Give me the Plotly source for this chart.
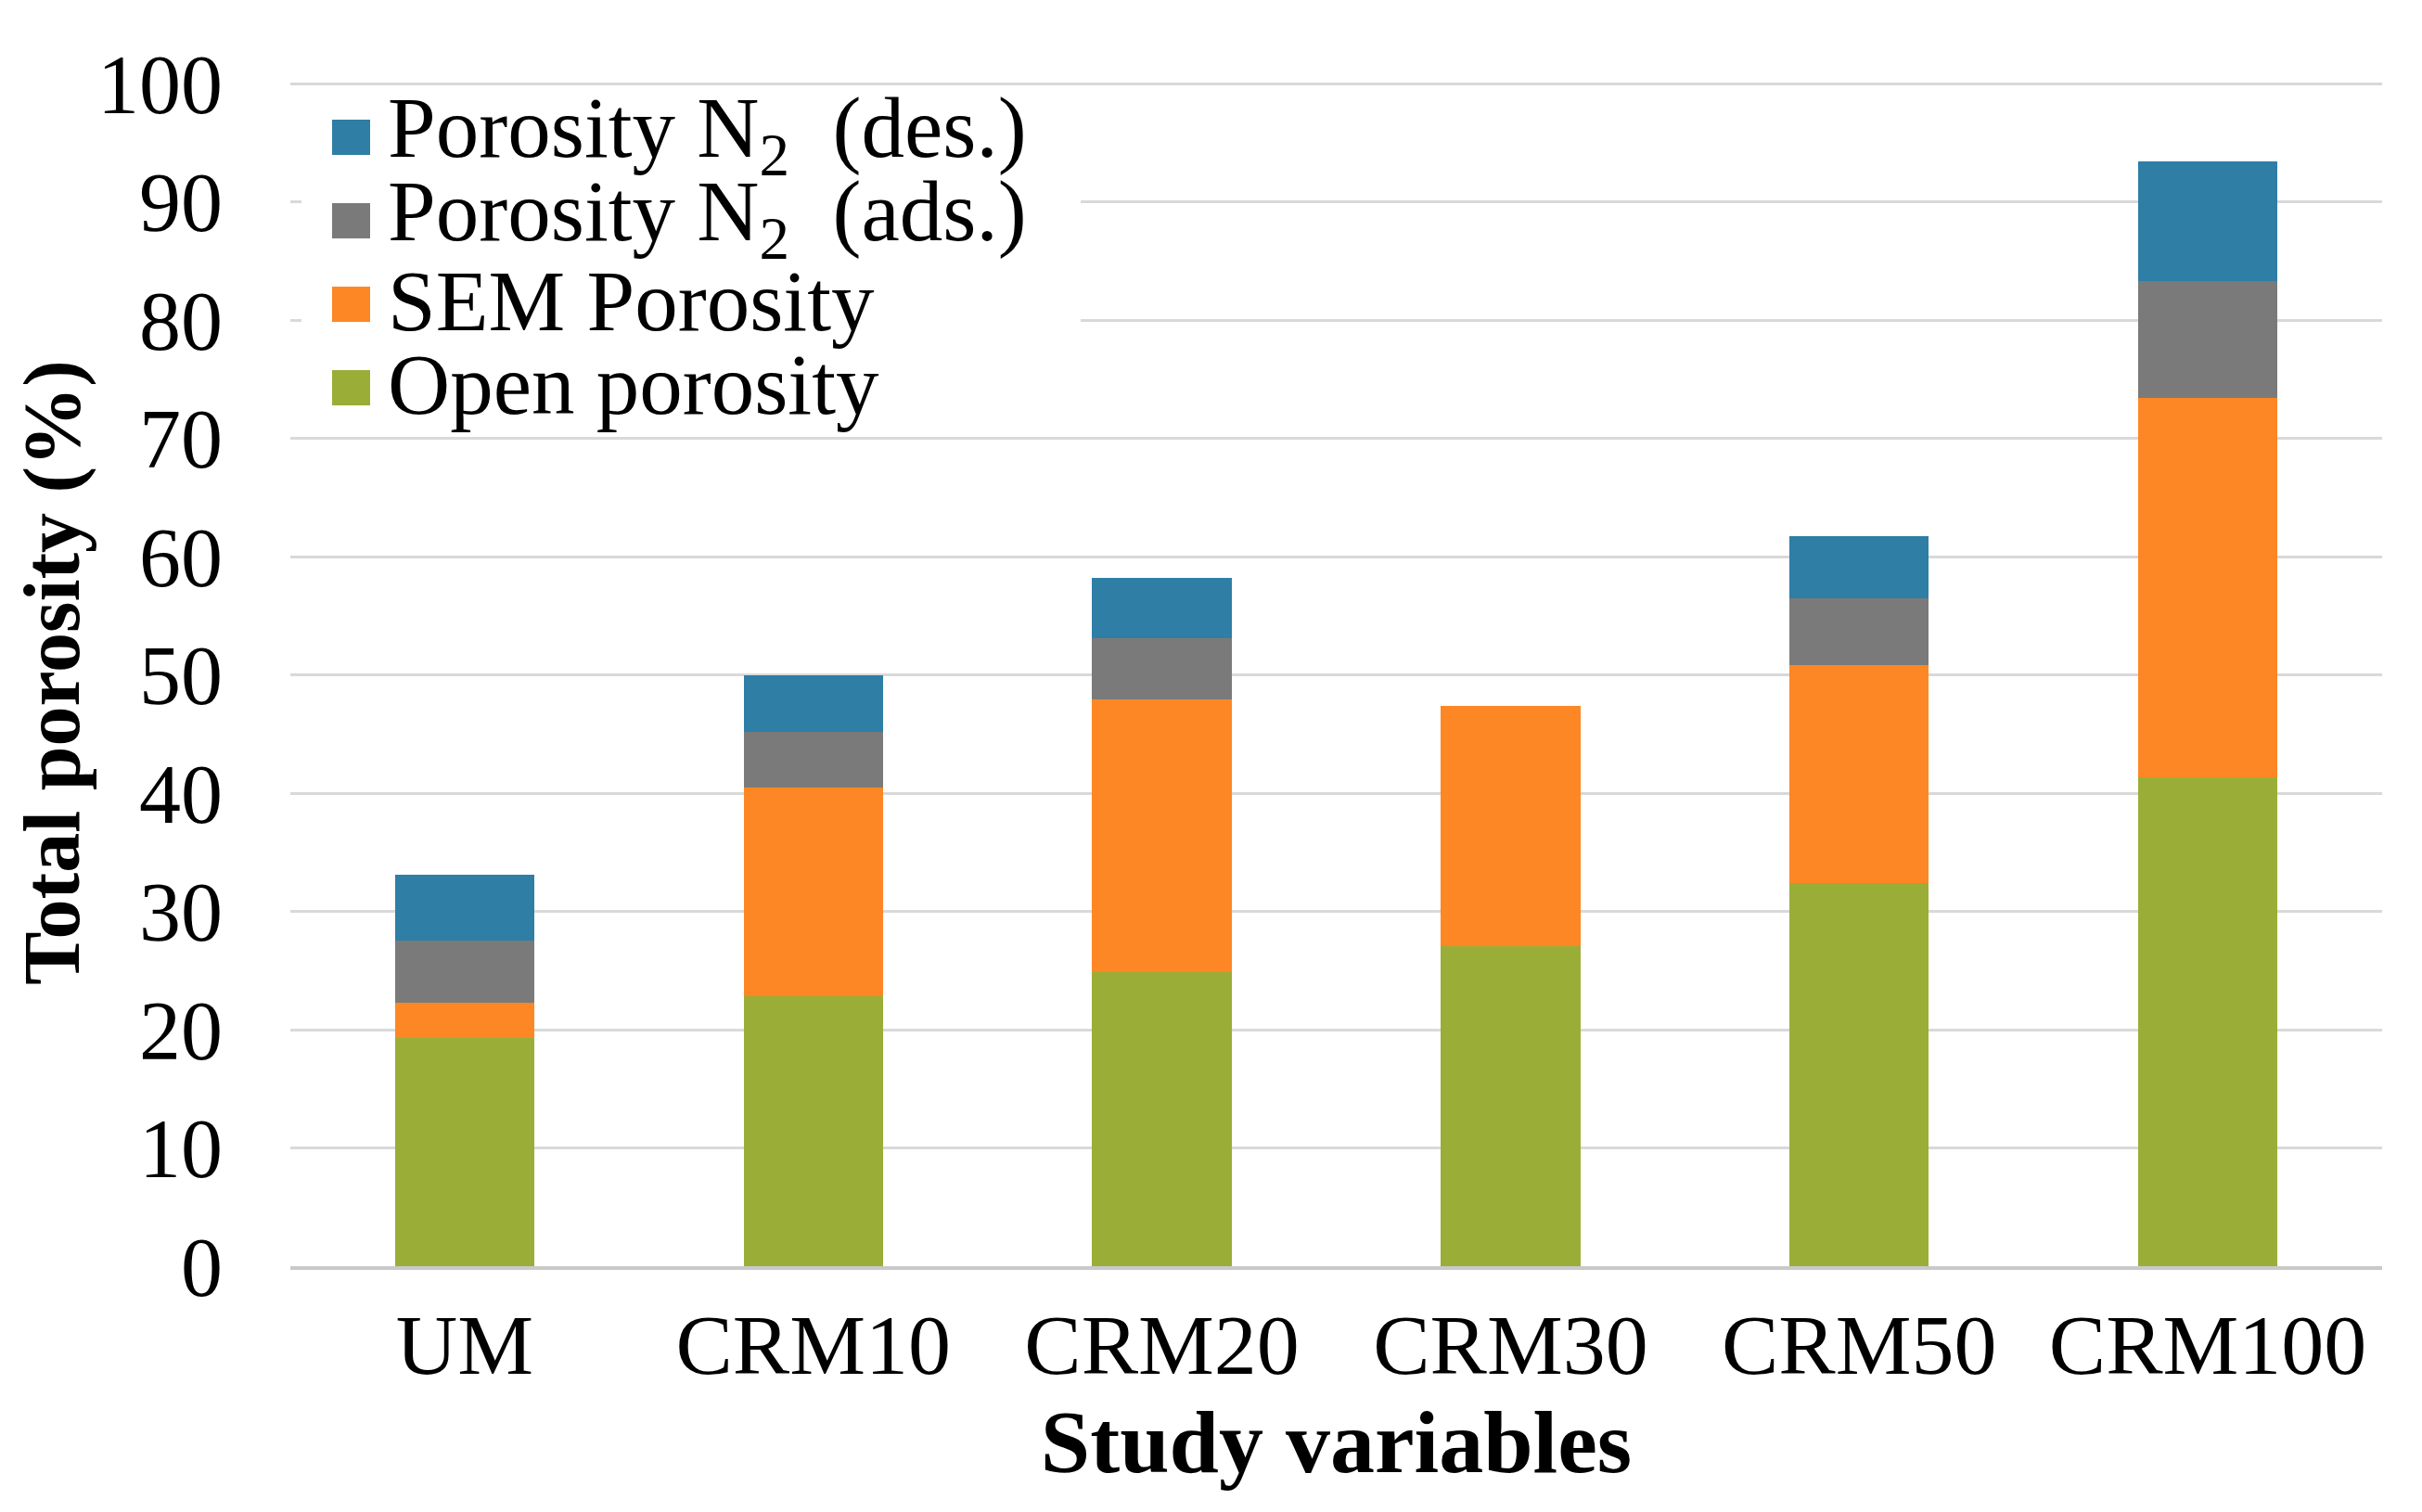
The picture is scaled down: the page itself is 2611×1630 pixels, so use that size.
import plotly.graph_objects as go

# ---------------- data ----------------
categories = ["UM", "CRM10", "CRM20", "CRM30", "CRM50", "CRM100"]
open_porosity = [19.3, 22.8, 24.9, 27.1, 32.4, 41.3]
sem_porosity = [3.0, 17.7, 23.0, 20.3, 18.4, 32.1]
n2_ads_porosity = [5.2, 4.7, 5.2, 0, 5.7, 9.9]
n2_des_porosity = [5.6, 4.8, 5.1, 0, 5.2, 10.1]
y_tick_values = [0, 10, 20, 30, 40, 50, 60, 70, 80, 90, 100]

series_names = [
    "Open porosity",
    "SEM Porosity",
    "Porosity N<sub>2</sub>\u00a0\u00a0(ads.)",
    "Porosity N<sub>2</sub>\u00a0\u00a0(des.)",
]
series_values = [open_porosity, sem_porosity, n2_ads_porosity, n2_des_porosity]
series_colors = ["#9AAE37", "#FD8725", "#7A7A7A", "#2E7EA6"]

# ---------------- layout constants (window pixels) ----------------
WIN_W, WIN_H = 2611, 1630
BODY = 8                      # default html body margin
W, H = WIN_W - 2 * BODY, WIN_H - 2 * BODY
YMAX = 100.4
PL, PR, PB = 313, 2568, 1365  # plot left/right/bottom in window px
UNIT = (PB - 90) / 100.0      # px per percent
PT = PB - YMAX * UNIT
PW, PH = PR - PL, PB - PT
ML = PL - BODY
MR = (BODY + W) - PR
MT = PT - BODY
MB = (BODY + H) - PB
FONT = "Liberation Serif, Times New Roman, serif"


def px_x(px):
    return (px - PL) / PW


def px_y(py):
    return (PB - py) / PH


fig = go.Figure()
for name, vals, col in zip(series_names, series_values, series_colors):
    fig.add_trace(go.Bar(
        x=categories, y=vals, name=name,
        marker=dict(color=col, line=dict(width=0)),
        showlegend=False,
    ))

# manual legend (large squares as in the reference)
legend_order = [3, 2, 1, 0]
row_centers = [148, 238, 328, 418]
shapes = [dict(type="rect", xref="paper", yref="paper",
               x0=px_x(325), x1=px_x(1165), y0=px_y(460), y1=px_y(105),
               fillcolor="white", line=dict(width=0), layer="above")]
annotations = []
for idx, cy in zip(legend_order, row_centers):
    shapes.append(dict(type="rect", xref="paper", yref="paper",
                       x0=px_x(358), x1=px_x(399), y0=px_y(cy + 19), y1=px_y(cy - 19),
                       fillcolor=series_colors[idx], line=dict(width=0), layer="above"))
    annotations.append(dict(xref="paper", yref="paper", x=px_x(416), y=px_y(cy - 4),
                            xanchor="left", yanchor="middle", showarrow=False,
                            text=series_names[idx],
                            font=dict(family=FONT, size=93, color="black")))

fig.update_layout(
    width=W, height=H,
    margin=dict(l=ML, r=MR, t=MT, b=MB, pad=0),
    barmode="stack", bargap=0.6,
    plot_bgcolor="white", paper_bgcolor="white",
    font=dict(family=FONT, color="black"),
    shapes=shapes, annotations=annotations,
    xaxis=dict(
        showgrid=False, showline=True, linecolor="#C9C9C9", linewidth=4,
        ticks="", tickfont=dict(family=FONT, size=92, color="black"),
        ticklabelstandoff=2,
        title=dict(text="<b>Study variables</b>", font=dict(family=FONT, size=96, color="black"),
                   standoff=6),
    ),
    yaxis=dict(
        range=[0, YMAX], tickvals=y_tick_values, showgrid=True, gridcolor="#D9D9D9", gridwidth=3,
        zeroline=False, showline=False, ticks="",
        tickfont=dict(family=FONT, size=90, color="black"), ticklabelstandoff=72,
        title=dict(text="<b>Total porosity (%)</b>", font=dict(family=FONT, size=86, color="black"),
                   standoff=2),
    ),
)

fig.write_html("out.html")
